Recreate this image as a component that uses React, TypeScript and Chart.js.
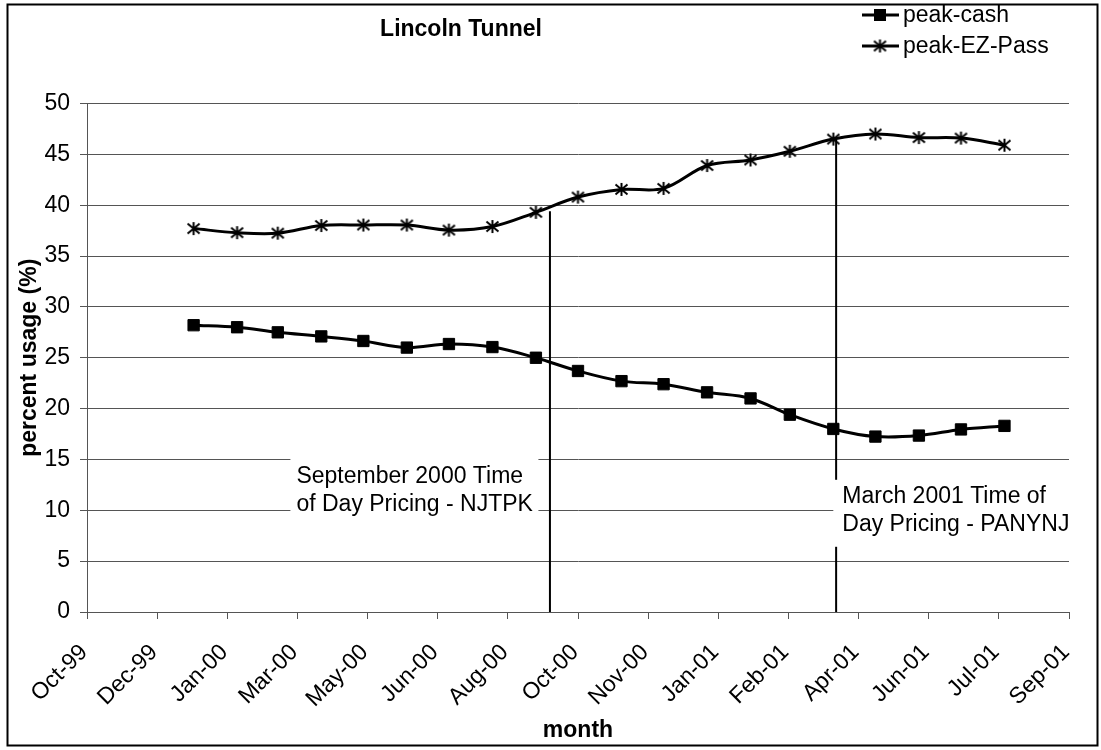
import React, { useEffect, useRef } from 'react';
import { Chart, registerables } from 'chart.js';

Chart.register(...registerables);

// ---- data (monthly, plotted on the 1st of each month) ----
const months = [
  '2000-01-01', '2000-02-01', '2000-03-01', '2000-04-01', '2000-05-01', '2000-06-01',
  '2000-07-01', '2000-08-01', '2000-09-01', '2000-10-01', '2000-11-01', '2000-12-01',
  '2001-01-01', '2001-02-01', '2001-03-01', '2001-04-01', '2001-05-01', '2001-06-01',
  '2001-07-01', '2001-08-01',
];
const peakCash = [
  28.2, 28.0, 27.5, 27.1, 26.65, 26.0, 26.35, 26.05, 25.0, 23.7,
  22.7, 22.4, 21.6, 21.0, 19.4, 18.0, 17.25, 17.35, 17.95, 18.3,
];
const peakEZPass = [
  37.7, 37.3, 37.25, 38.0, 38.05, 38.05, 37.55, 37.9, 39.3, 40.8,
  41.55, 41.65, 43.9, 44.45, 45.3, 46.5, 47.0, 46.65, 46.6, 45.9,
];
const seriesNames = ['peak-cash', 'peak-EZ-Pass'];

// x axis: value axis of dates, 50-day major unit
const axisStartDate = '1999-10-17';
const axisStepDays = 50;
const xTickLabels = [
  'Oct-99', 'Dec-99', 'Jan-00', 'Mar-00', 'May-00', 'Jun-00', 'Aug-00', 'Oct-00',
  'Nov-00', 'Jan-01', 'Feb-01', 'Apr-01', 'Jun-01', 'Jul-01', 'Sep-01',
];
const yMin = 0;
const yMax = 50;
const yStep = 5;

// pricing change markers
const pricingDates = ['2000-09-11', '2001-04-03'];
const pricingLineTops = [39.4, 46.4];
const pricingNotes = [
  ['September 2000 Time', 'of Day Pricing - NJTPK'],
  ['March 2001 Time of', 'Day Pricing - PANYNJ'],
];
const noteBoxDates = ['2000-03-10', '2001-04-01'];
const noteBoxTops = [15.5, 13];

const FONT = 'Arial, "Liberation Sans", Helvetica, sans-serif';

const dayNum = (iso: string) => {
  const [y, m, d] = iso.split('-').map(Number);
  return Date.UTC(y, m - 1, d) / 86400000;
};
const axisStart = dayNum(axisStartDate);
const axisEnd = axisStart + axisStepDays * (xTickLabels.length - 1);

function makeStar(): HTMLCanvasElement {
  const c = document.createElement('canvas');
  c.width = 15;
  c.height = 15;
  const g = c.getContext('2d')!;
  g.strokeStyle = '#000';
  g.lineWidth = 2;
  g.beginPath();
  g.moveTo(7.5, 1);
  g.lineTo(7.5, 14);
  g.moveTo(1.5, 2.5);
  g.lineTo(13.5, 12.5);
  g.moveTo(13.5, 2.5);
  g.lineTo(1.5, 12.5);
  g.stroke();
  return c;
}

export default function App() {
  const ref = useRef<HTMLCanvasElement | null>(null);

  useEffect(() => {
    if (!ref.current) return;
    const star = makeStar();

    const frame = {
      id: 'frame',
      beforeDraw(chart: any) {
        const ctx = chart.ctx;
        ctx.save();
        ctx.fillStyle = '#fff';
        ctx.fillRect(0, 0, chart.width, chart.height);
        ctx.strokeStyle = '#000';
        ctx.lineWidth = 2;
        ctx.strokeRect(7.5, 4.5, 1090, 741);
        ctx.restore();
      },
    };

    const notes = {
      id: 'notes',
      afterDatasetsDraw(chart: any) {
        const ctx = chart.ctx;
        const xs = chart.scales.x;
        const ys = chart.scales.y;
        ctx.save();
        // vertical marker lines
        ctx.strokeStyle = '#000';
        ctx.lineWidth = 2;
        pricingDates.forEach((d, i) => {
          const x = xs.getPixelForValue(dayNum(d));
          ctx.beginPath();
          ctx.moveTo(x, ys.getPixelForValue(pricingLineTops[i]));
          ctx.lineTo(x, ys.getPixelForValue(0));
          ctx.stroke();
        });
        // text boxes
        const sizes = [
          { w: 248, h: 68, dx: 6, dy: 29, gap: 27.4 },
          { w: 250, h: 67, dx: 9, dy: 23, gap: 28 },
        ];
        ctx.font = `23px ${FONT}`;
        ctx.textBaseline = 'alphabetic';
        ctx.textAlign = 'left';
        pricingNotes.forEach((lines, i) => {
          const s = sizes[i];
          const left = xs.getPixelForValue(dayNum(noteBoxDates[i]));
          const top = ys.getPixelForValue(noteBoxTops[i]);
          ctx.fillStyle = '#fff';
          ctx.fillRect(left, top, s.w, s.h);
          ctx.fillStyle = '#000';
          lines.forEach((t, j) => ctx.fillText(t, left + s.dx, top + s.dy + j * s.gap));
        });
        ctx.restore();
      },
      afterDraw(chart: any) {
        const ctx = chart.ctx;
        ctx.save();
        // title
        ctx.fillStyle = '#000';
        ctx.font = `bold 23px ${FONT}`;
        ctx.textAlign = 'center';
        ctx.textBaseline = 'middle';
        ctx.fillText('Lincoln Tunnel', 461, 30);
        // legend
        const rows = [15, 46];
        ctx.font = `23px ${FONT}`;
        ctx.textAlign = 'left';
        chart.data.datasets.forEach((ds: any, i: number) => {
          const y = rows[i];
          ctx.strokeStyle = '#000';
          ctx.lineWidth = 3;
          ctx.beginPath();
          ctx.moveTo(862, y);
          ctx.lineTo(899, y);
          ctx.stroke();
          if (ds.pointStyle === 'rect') {
            ctx.fillStyle = '#000';
            ctx.fillRect(880 - 6, y - 6, 12, 12);
          } else {
            ctx.drawImage(ds.pointStyle, 880 - 7.5, y - 7.5);
          }
          ctx.fillStyle = '#000';
          ctx.fillText(ds.label, 903, y + 1);
        });
        ctx.restore();
      },
    };

    const xsData = months.map(dayNum);

    const chart = new Chart(ref.current, {
      type: 'line',
      data: {
        datasets: [
          {
            label: seriesNames[0],
            data: xsData.map((x, i) => ({ x, y: peakCash[i] })),
            borderColor: '#000',
            backgroundColor: '#000',
            borderWidth: 3,
            tension: 0.35,
            pointStyle: 'rect',
            pointRadius: 8,
            pointBorderWidth: 1,
            pointBackgroundColor: '#000',
            pointBorderColor: '#000',
          },
          {
            label: seriesNames[1],
            data: xsData.map((x, i) => ({ x, y: peakEZPass[i] })),
            borderColor: '#000',
            backgroundColor: '#000',
            borderWidth: 3,
            tension: 0.35,
            pointStyle: star as any,
            pointRadius: 7,
          },
        ],
      },
      options: {
        responsive: false,
        animation: false,
        events: [],
        layout: { padding: { left: 0, right: 32, top: 103.5, bottom: 0 } },
        plugins: {
          legend: { display: false },
          title: { display: false },
          tooltip: { enabled: false },
        },
        scales: {
          x: {
            type: 'linear',
            min: axisStart,
            max: axisEnd,
            ticks: {
              stepSize: axisStepDays,
              maxTicksLimit: 40,
              autoSkip: false,
              maxRotation: 45,
              minRotation: 45,
              padding: 20,
              labelOffset: -3,
              color: '#000',
              font: { family: FONT, size: 23 },
              callback: (v: any) => {
                const i = Math.round((Number(v) - axisStart) / axisStepDays);
                return xTickLabels[i] ?? '';
              },
            },
            grid: { drawOnChartArea: false, drawTicks: true, tickLength: 7, color: '#555' },
            border: { display: true, color: '#555', width: 1 },
            title: {
              display: true,
              text: 'month',
              color: '#000',
              font: { family: FONT, size: 23, weight: 'bold' },
              padding: { top: 0, bottom: 6 },
            },
            afterFit: (s: any) => {
              s.height = 138;
              s.paddingLeft = 0;
              s.paddingRight = 0;
            },
          },
          y: {
            min: yMin,
            max: yMax,
            ticks: {
              stepSize: yStep,
              padding: 10,
              color: '#000',
              font: { family: FONT, size: 23 },
            },
            grid: { color: '#555', tickLength: 7, lineWidth: 1 },
            border: { display: true, color: '#555', width: 1 },
            title: {
              display: true,
              text: 'percent usage (%)',
              color: '#000',
              font: { family: FONT, size: 23, weight: 'bold' },
              padding: { top: 16, bottom: 0 },
            },
            afterFit: (s: any) => {
              s.width = 87;
              s.paddingTop = 0;
              s.paddingBottom = 0;
            },
          },
        },
      } as any,
      plugins: [frame, notes],
    });

    return () => chart.destroy();
  }, []);

  return (
    <div style={{ position: 'absolute', left: 0, top: 0, width: 1101, height: 750 }}>
      <canvas ref={ref} width={1101} height={750} />
    </div>
  );
}
